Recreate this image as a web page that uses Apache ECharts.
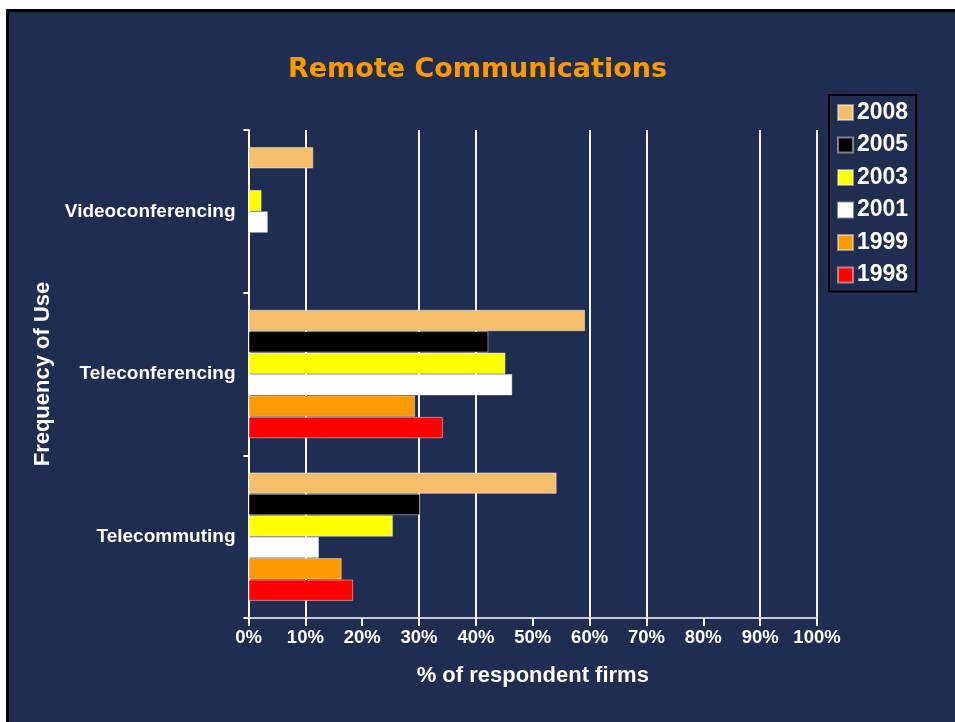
<!DOCTYPE html>
<html>
<head>
<meta charset="utf-8">
<title>Remote Communications</title>
<script src="https://cdn.jsdelivr.net/npm/echarts@6/dist/echarts.min.js"></script>
<style>
  html, body { margin: 0; padding: 0; background: #fff; }
  #main { width: 955px; height: 722px; }
</style>
</head>
<body>
<div id="main"></div>
<script>
// frequency of use categories, bottom to top as drawn
var categories = ['Telecommuting', 'Teleconferencing', 'Videoconferencing'];
var years = ['2008', '2005', '2003', '2001', '1999', '1998'];

// % of respondent firms, one array per survey year
var v2008 = [54.2, 59.2, 11.4];
var v2005 = [30.2, 42.2, null];
var v2003 = [25.4, 45.2, 2.3];
var v2001 = [12.4, 46.4, 3.4];
var v1999 = [16.4, 29.3, null];
var v1998 = [18.4, 34.2, null];

var yearValues = [v2008, v2005, v2003, v2001, v1999, v1998];
var yearColors = ['#f5be6a', '#000000', '#ffff00', '#ffffff', '#ff9900', '#ff0000'];

var labelFont = 'Liberation Sans, Arial, sans-serif';
var shadow = {
  textShadowColor: 'rgba(160,95,40,0.9)',
  textShadowOffsetX: 1,
  textShadowOffsetY: 1,
  textShadowBlur: 0
};

var chart = echarts.init(document.getElementById('main'));

var series = years.map(function (y, i) {
  return {
    name: y,
    type: 'bar',
    data: yearValues[i],
    barGap: '0%',
    barCategoryGap: '21%',
    itemStyle: {
      color: yearColors[i],
      borderColor: 'rgba(255,255,255,0.45)',
      borderWidth: 1
    }
  };
});

chart.setOption({
  backgroundColor: '#ffffff',
  animation: false,
  graphic: [{
    type: 'rect',
    z: -100,
    silent: true,
    shape: { x: 7.5, y: 10.5, width: 960, height: 720 },
    style: { fill: '#1f2d50', stroke: '#000', lineWidth: 3 }
  }],
  title: {
    text: 'Remote Communications',
    left: 'center',
    top: 51,
    textStyle: {
      fontFamily: '"Comic Sans MS", "DejaVu Sans", sans-serif',
      fontSize: 27,
      fontWeight: 'bold',
      color: '#ff9900',
      textShadowColor: '#6b3500',
      textShadowOffsetX: 1.5,
      textShadowOffsetY: 1.5,
      textShadowBlur: 0
    }
  },
  legend: {
    data: years,
    orient: 'vertical',
    left: 829,
    top: 95,
    padding: [6, 8, 5, 8],
    itemGap: 9.5,
    itemWidth: 15,
    itemHeight: 15,
    icon: 'rect',
    backgroundColor: '#1f2d50',
    borderColor: '#000',
    borderWidth: 2,
    textStyle: Object.assign({
      color: '#fff',
      fontFamily: labelFont,
      fontWeight: 'bold',
      fontSize: 23,
      padding: [0, 0, 0, -1]
    }, shadow)
  },
  grid: {
    left: 248.5,
    right: 138,
    top: 130,
    bottom: 104
  },
  xAxis: {
    type: 'value',
    min: 0,
    max: 100,
    interval: 10,
    name: '% of respondent firms',
    nameLocation: 'middle',
    nameGap: 47,
    nameTextStyle: Object.assign({
      color: '#fff',
      fontFamily: labelFont,
      fontWeight: 'bold',
      fontSize: 22
    }, shadow),
    axisLine: { show: true, lineStyle: { color: '#c8ccd8', width: 2 } },
    axisTick: { show: true, length: 8, lineStyle: { color: '#fff', width: 2 } },
    axisLabel: Object.assign({
      formatter: '{value}%',
      color: '#fff',
      fontFamily: labelFont,
      fontWeight: 'bold',
      fontSize: 18.5,
      margin: 10
    }, shadow),
    splitLine: {
      show: true,
      lineStyle: { color: ['#f4f4f4', '#f4f4f4', 'rgba(0,0,0,0)'], width: 2 }
    }
  },
  yAxis: {
    type: 'category',
    data: categories,
    name: 'Frequency of Use',
    nameLocation: 'middle',
    nameRotate: 90,
    nameGap: 193,
    nameTextStyle: Object.assign({
      color: '#fff',
      fontFamily: labelFont,
      fontWeight: 'bold',
      fontSize: 22
    }, shadow),
    axisLine: { show: true, lineStyle: { color: '#fff', width: 2 } },
    axisTick: { show: true, length: 5, lineStyle: { color: '#fff', width: 2 } },
    axisLabel: Object.assign({
      color: '#fff',
      fontFamily: labelFont,
      fontWeight: 'bold',
      fontSize: 19,
      margin: 13
    }, shadow),
    splitLine: { show: false }
  },
  series: series
});
</script>
</body>
</html>
